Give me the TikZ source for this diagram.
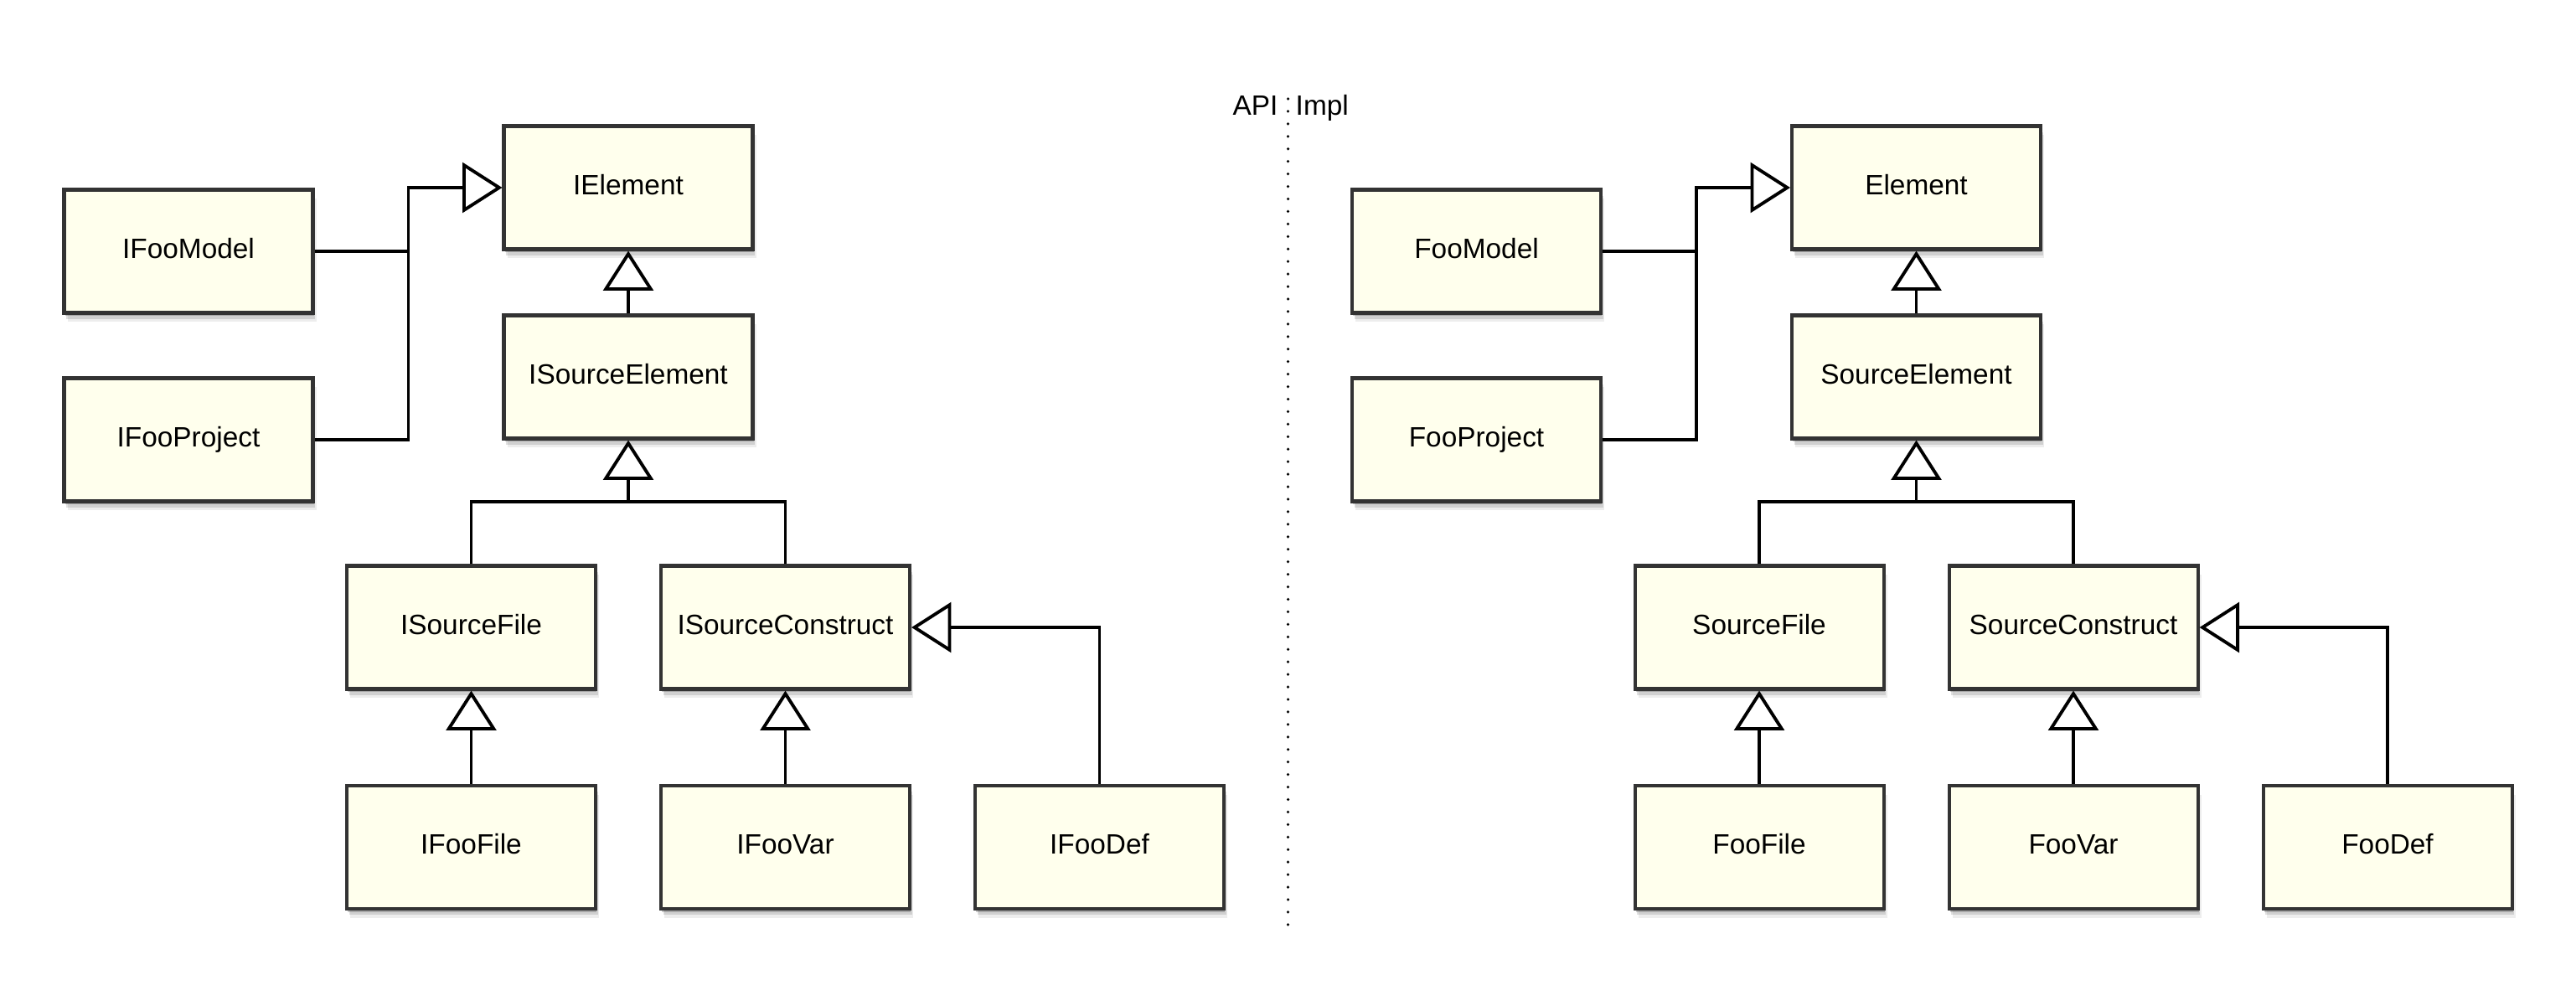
\documentclass[tikz,border=0pt]{standalone}
\usepackage{fontspec}
\setmainfont{Liberation Sans}
\usetikzlibrary{arrows.meta,shadows}
\definecolor{boxfill}{RGB}{255,255,237}
\definecolor{boxline}{RGB}{51,51,51}
\begin{document}
\begin{tikzpicture}
	\tikzset{every node/.style=
        {font=\fontsize{9.5}{11}\selectfont, align=center},
        cls/.style={draw=boxline, line width=1.15pt, fill=boxfill, inner sep=0pt,
            minimum height=1.47cm, minimum width=2.97cm, text height=7pt, text depth=2.4pt,
            drop shadow={shadow xshift=1.2pt, shadow yshift=-3pt, opacity=0.07, fill=black},
            drop shadow={shadow xshift=0.8pt, shadow yshift=-2pt, opacity=0.12, fill=black},
            drop shadow={shadow xshift=0.4pt, shadow yshift=-1pt, opacity=0.2, fill=black}},
        conn/.style={line width=1.1pt},
        inh/.style={conn, -{Triangle[open, length=13.5pt, width=17pt]}},
        divider/.style={line width=1pt, line cap=round, dash pattern=on 0pt off 4.25pt}
     }
	\useasboundingbox (0,0) rectangle (30.75,12);
	% API side
	\node (aelem) at (7.5,9.76) [cls] {IElement};
	\node (amodel) at (2.25,9) [cls] {IFooModel};
	\node (aproject) at (2.25,6.75) [cls] {IFooProject};
	\node (asrcelem) at (7.5,7.5) [cls] {ISourceElement};
	\node (asrcfile) at (5.625,4.51) [cls] {ISourceFile};
	\node (asrccons) at (9.375,4.51) [cls] {ISourceConstruct};
	\node (afile) at (5.625,1.885) [cls] {IFooFile};
	\node (avar) at (9.375,1.885) [cls] {IFooVar};
	\node (adef) at (13.125,1.885) [cls] {IFooDef};
	\coordinate (ajoin) at (4.875,9.76);
	\coordinate (abus) at (7.5,6.01);
	
	\draw[conn] (amodel.east) -| (ajoin);
	\draw[inh] (aproject.east) -| (ajoin) -- (aelem.west);
	\draw[inh] (asrcelem.north) -- (aelem.south);
	\draw[conn] (asrcfile.north) |- (abus);
	\draw[conn] (asrccons.north) |- (abus);
	\draw[inh] (abus) -- (asrcelem.south);
	\draw[inh] (afile.north) -- (asrcfile.south);
	\draw[inh] (avar.north) -- (asrccons.south);
	\draw[inh] (adef.north) |- (asrccons.east);
	
	% divider
	\node[anchor=base east, inner sep=0pt] (api) at (15.26,10.62) {API};
	\node[anchor=base west, inner sep=0pt] (impl) at (15.46,10.62) {Impl};
	\coordinate (divtop) at (15.375,10.82);
	\coordinate (divbot) at (15.375,0.9);
	\draw[divider] (divtop) -- (divbot);
	
	% Impl side
	\node (ielem) at (22.875,9.76) [cls] {Element};
	\node (imodel) at (17.625,9) [cls] {FooModel};
	\node (iproject) at (17.625,6.75) [cls] {FooProject};
	\node (isrcelem) at (22.875,7.5) [cls] {SourceElement};
	\node (isrcfile) at (21,4.51) [cls] {SourceFile};
	\node (isrccons) at (24.75,4.51) [cls] {SourceConstruct};
	\node (ifile) at (21,1.885) [cls] {FooFile};
	\node (ivar) at (24.75,1.885) [cls] {FooVar};
	\node (idef) at (28.5,1.885) [cls] {FooDef};
	\coordinate (ijoin) at (20.25,9.76);
	\coordinate (ibus) at (22.875,6.01);
	
	\draw[conn] (imodel.east) -| (ijoin);
	\draw[inh] (iproject.east) -| (ijoin) -- (ielem.west);
	\draw[inh] (isrcelem.north) -- (ielem.south);
	\draw[conn] (isrcfile.north) |- (ibus);
	\draw[conn] (isrccons.north) |- (ibus);
	\draw[inh] (ibus) -- (isrcelem.south);
	\draw[inh] (ifile.north) -- (isrcfile.south);
	\draw[inh] (ivar.north) -- (isrccons.south);
	\draw[inh] (idef.north) |- (isrccons.east);
\end{tikzpicture}
\end{document}
